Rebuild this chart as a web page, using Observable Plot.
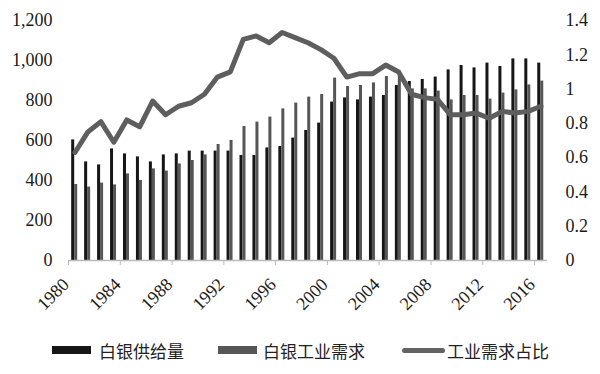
<!DOCTYPE html>
<html><head><meta charset="utf-8">
<script src="https://cdn.jsdelivr.net/npm/d3@7"></script>
<script src="https://cdn.jsdelivr.net/npm/@observablehq/plot@0.6"></script>
<style>
body{margin:0;background:#fff;}
#wrap{position:relative;width:600px;height:374px;background:#fff;}
.legend{position:absolute;top:338px;left:0;width:600px;height:24px;font-family:"Noto Sans CJK SC",sans-serif;font-size:17px;color:#222;}
.item{position:absolute;top:0;display:flex;align-items:center;height:24px;white-space:nowrap;}
.sw{width:39px;height:8px;}
</style></head>
<body><div id="wrap"><div id="chart"></div>
<div class="legend">
  <div class="item" style="left:52px"><span class="sw" style="background:#161616;margin-right:8px"></span>白银供给量</div>
  <div class="item" style="left:218px"><span class="sw" style="background:#565656;margin-right:6px"></span>白银工业需求</div>
  <div class="item" style="left:402px"><span class="sw" style="width:43px;height:5px;border-radius:3px;background:#636363;margin-right:2px"></span>工业需求占比</div>
</div></div>
<script>
const years = [1980,1981,1982,1983,1984,1985,1986,1987,1988,1989,1990,1991,1992,1993,1994,1995,1996,1997,1998,1999,2000,2001,2002,2003,2004,2005,2006,2007,2008,2009,2010,2011,2012,2013,2014,2015,2016];
const supply = [603,493,478,558,533,518,493,528,533,547,547,547,547,525,525,563,570,612,650,687,792,813,803,817,825,875,895,905,917,953,975,963,987,970,1008,1008,987];
const demand = [380,367,387,378,433,400,458,447,483,500,528,580,600,670,692,717,758,787,817,830,912,870,875,888,920,947,858,858,847,803,825,825,807,837,853,878,897];
const ratio = [0.63,0.75,0.81,0.69,0.82,0.78,0.93,0.85,0.90,0.92,0.97,1.07,1.10,1.29,1.31,1.27,1.33,1.30,1.27,1.23,1.18,1.07,1.09,1.09,1.14,1.10,0.97,0.95,0.94,0.85,0.85,0.86,0.83,0.87,0.86,0.87,0.90];
const labelYears = [1980,1984,1988,1992,1996,2000,2004,2008,2012,2016];
const leftTicks = [0,200,400,600,800,1000,1200];
const rightTicks = [0,0.2,0.4,0.6,0.8,1,1.2,1.4];

const k = 1200/1.4;
const rows = years.map((year,i)=>({year, supply:supply[i], demand:demand[i], ratio:ratio[i]}));
const bw = (600-68-53)/years.length;

const chart = Plot.plot({
  width:600, height:330,
  marginTop:20, marginBottom:70, marginLeft:68, marginRight:53,
  style:{fontFamily:"'Liberation Serif', serif", fontSize:"18px", color:"#1a1a1a", background:"#fff"},
  x:{type:"band", domain:years, padding:0, label:null},
  y:{domain:[0,1200], label:null},
  marks:[
    Plot.barY(rows, {x:"year", y:"supply", fill:"#161616", insetLeft:3.2, insetRight:bw-6.2}),
    Plot.barY(rows, {x:"year", y:"demand", fill:"#565656", insetLeft:6.2, insetRight:bw-9.2}),
    Plot.ruleY([0], {stroke:"#bbb", strokeWidth:1.5}),
    Plot.axisX(labelYears, {tickSize:5, tickFormat:()=>"", dx:-bw/2, stroke:"#bbb", label:null}),
    Plot.axisX(labelYears, {tickSize:0, tickPadding:21, tickRotate:-45, tickFormat:d=>String(d), dx:-9, label:null}),
    Plot.axisY(leftTicks, {anchor:"left", tickSize:0, tickPadding:16, tickFormat:d3.format(","), label:null}),
    Plot.axisY(rightTicks.map(v=>v*k), {anchor:"right", tickSize:0, tickPadding:18, tickFormat:d=>String(Math.round(d/k*10)/10), label:null}),
    Plot.lineY(rows, {x:"year", y:d=>d.ratio*k, stroke:"#5e5e5e", strokeWidth:5, strokeLinejoin:"round"})
  ]
});
document.getElementById("chart").append(chart);
</script></body></html>
